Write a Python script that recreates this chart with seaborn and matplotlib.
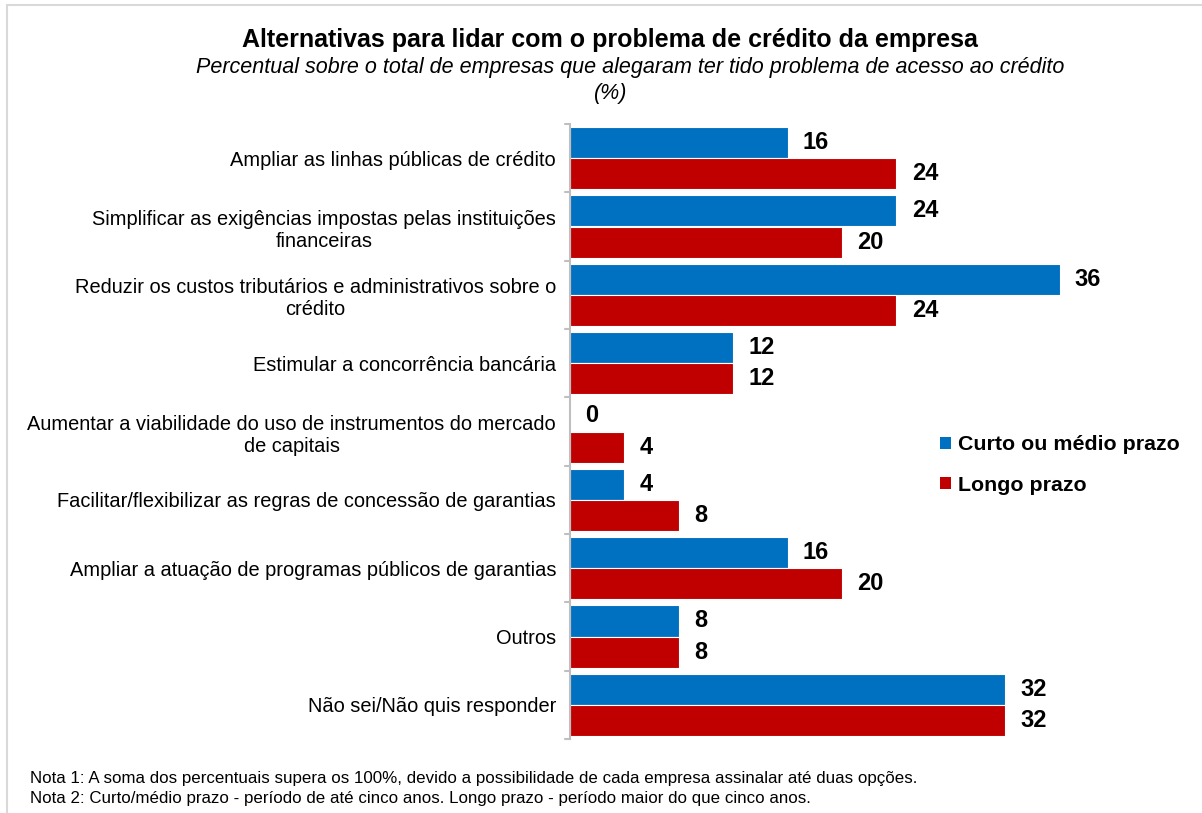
import matplotlib
matplotlib.use("Agg")
import matplotlib.pyplot as plt
import seaborn as sns
import pandas as pd
from matplotlib.lines import Line2D
from matplotlib.patches import Patch

categories = [
    "Ampliar as linhas públicas de crédito",
    "Simplificar as exigências impostas pelas instituições\nfinanceiras",
    "Reduzir os custos tributários e administrativos sobre o\ncrédito",
    "Estimular a concorrência bancária",
    "Aumentar a viabilidade do uso de instrumentos do mercado\nde capitais",
    "Facilitar/flexibilizar as regras de concessão de garantias",
    "Ampliar a atuação de programas públicos de garantias",
    "Outros",
    "Não sei/Não quis responder",
]
curto = [16, 24, 36, 12, 0, 4, 16, 8, 32]
longo = [24, 20, 24, 12, 4, 8, 20, 8, 32]
series_names = ["Curto ou médio prazo", "Longo prazo"]
colors = ["#0070C0", "#C00000"]

title = "Alternativas para lidar com o problema de crédito da empresa"
subtitle = "Percentual sobre o total de empresas que alegaram ter tido problema de acesso ao crédito"
subtitle2 = "(%)"
notes = [
    "Nota 1: A soma dos percentuais supera os 100%, devido a possibilidade de cada empresa assinalar até duas opções.",
    "Nota 2: Curto/médio prazo - período de até cinco anos. Longo prazo - período maior do que cinco anos.",
]

df = pd.DataFrame({
    "cat": categories * 2,
    "val": curto + longo,
    "serie": [series_names[0]] * len(categories) + [series_names[1]] * len(categories),
})

sns.set_theme(style="white")
plt.rcParams["font.family"] = ["Liberation Sans", "DejaVu Sans"]
plt.rcParams["text.color"] = "black"
plt.rcParams["ytick.color"] = "black"

W, H = 1202, 813
fig = plt.figure(figsize=(W / 100, H / 100), dpi=100)
ax = fig.add_axes([570 / W, 1 - 739 / H, (1185 - 570) / W, (739 - 124) / H])

sns.barplot(data=df, y="cat", x="val", hue="serie", order=categories,
            hue_order=series_names, palette=colors, saturation=1, width=0.91,
            edgecolor="white", linewidth=0.8, ax=ax, legend=False, errorbar=None)

ax.set_xlim(0, 615 / 13.6)
ax.set_ylim(len(categories) - 0.5, -0.5)
ax.set_xlabel("")
ax.set_ylabel("")
ax.set_xticks([])
for s in ["top", "right", "bottom"]:
    ax.spines[s].set_visible(False)
ax.spines["left"].set_color("#BFBFBF")
ax.spines["left"].set_linewidth(1.5)

ax.set_yticks(range(len(categories)))
ax.set_yticklabels(categories, fontsize=14.4, multialignment="center", color="black")
ax.tick_params(axis="y", length=0, pad=10)
# boundary ticks
for b in [i - 0.5 for i in range(len(categories) + 1)]:
    ax.plot([-0.35, 0], [b, b], color="#BFBFBF", lw=1.5, clip_on=False)

for cont in ax.containers:
    ax.bar_label(cont, fmt="%g", padding=11, fontsize=17, fontweight="bold", color="black")

fig.text(610 / W, 1 - 40 / H, title, ha="center", va="center", fontsize=18, fontweight="bold")
fig.text(630 / W, 1 - 67 / H, subtitle, ha="center", va="center", fontsize=15.5, style="italic")
fig.text(611 / W, 1 - 93 / H, subtitle2, ha="center", va="center", fontsize=15.5, style="italic")

handles = [Patch(facecolor=c, edgecolor="none") for c in colors]
fig.legend(handles, series_names, loc="center left", bbox_to_anchor=(921 / W, 1 - 465 / H),
           frameon=False, prop={"size": 15.4, "weight": "bold"}, handlelength=0.5,
           handleheight=0.5, handletextpad=0.35, labelspacing=1.0)

fig.text(30 / W, 1 - 778 / H, notes[0], ha="left", va="center", fontsize=12.2)
fig.text(30 / W, 1 - 798 / H, notes[1], ha="left", va="center", fontsize=12.2)

fig.add_artist(Line2D([7 / W, 7 / W], [0, 1 - 5 / H], transform=fig.transFigure,
                      color="#D9D9D9", lw=1.5))
fig.add_artist(Line2D([7 / W, 1], [1 - 5 / H, 1 - 5 / H], transform=fig.transFigure,
                      color="#D9D9D9", lw=1.5))

fig.savefig("out.png", dpi=100)
